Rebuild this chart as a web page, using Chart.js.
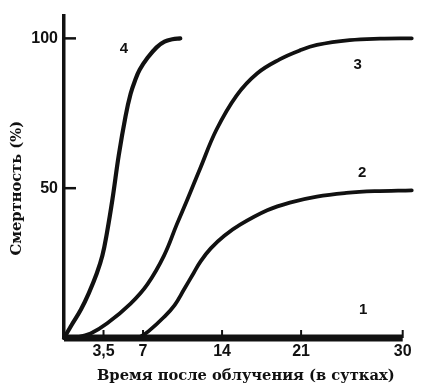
<!DOCTYPE html>
<html>
<head>
<meta charset="utf-8">
<script src="https://cdn.jsdelivr.net/npm/chart.js@4/dist/chart.umd.min.js"></script>
<style>
  html, body { margin: 0; padding: 0; background: #fff; }
  canvas { display: block; }
</style>
</head>
<body>
<canvas id="chart" width="429" height="386"></canvas>
<script>
// Mortality (%) against days after irradiation, four dose groups
const days1 = [0, 30];
const mort1 = [0, 0];

const days2 = [6.6, 7.5, 8.86, 9.8, 10.6, 11.5, 12.1, 13.0, 14.2, 15.6, 18.0, 20.0, 22.4, 25.0, 27.5, 30.8];
const mort2 = [0, 2.3, 7, 11, 16, 21.8, 25.6, 29.9, 34.1, 37.8, 42.6, 45.2, 47.2, 48.4, 49, 49.3];

const days3 = [0, 1.2, 2.36, 3.83, 5.9, 7.4, 8.86, 10.0, 10.9, 11.5, 12.05, 13.5, 15.3, 17.1, 19.1, 20.9, 22.4, 25.3, 28.0, 30.8];
const mort3 = [0, 0.3, 1.5, 4.9, 11.5, 18, 27.5, 38, 46, 51.5, 56.5, 69.5, 81, 88.3, 93, 96, 97.8, 99.4, 99.9, 100];

const days4 = [0, 0.7, 1.5, 2.2, 2.9, 3.4, 3.8, 4.3, 4.85, 5.45, 5.9, 6.3, 6.7, 7.4, 8.2, 8.9, 9.6, 10.3];
const mort4 = [0, 4.5, 9.5, 15, 21.5, 27.5, 35, 46.5, 61, 74, 81.5, 86, 89.5, 93.5, 97, 98.9, 99.7, 100];

const xTickValues = [3.5, 7, 14, 21, 30];
const xTickLabels = ['3,5', '7', '14', '21', '30'];
const yTickValues = [50, 100];

const curveNames = ['1', '2', '3', '4'];
const xTitle = 'Время после облучения (в сутках)';
const yTitle = 'Смертность (%)';

const ink = '#111111';
const tickFont = { family: "'Liberation Sans', Arial, sans-serif", size: 16, weight: 'bold' };
const titleFont = "bold 14.7px 'DejaVu Serif', serif";

function points(xs, ys) {
  return xs.map((x, i) => ({ x: x, y: ys[i] }));
}

// curve numbers, axis titles and inward tick marks, placed through the scales
const decor = {
  id: 'decor',
  afterDatasetsDraw(chart) {
    const { ctx, chartArea } = chart;
    const xs = chart.scales.x, ys = chart.scales.y;
    ctx.save();
    ctx.strokeStyle = ink;
    ctx.fillStyle = ink;

    // y tick marks point into the plot
    ctx.lineWidth = 2.5;
    yTickValues.forEach(v => {
      const py = ys.getPixelForValue(v);
      ctx.beginPath();
      ctx.moveTo(chartArea.left, py);
      ctx.lineTo(chartArea.left + 12, py);
      ctx.stroke();
    });

    // x tick marks rise from the base line
    ctx.lineWidth = 2;
    const y0 = ys.getPixelForValue(0);
    xTickValues.forEach(v => {
      const px = xs.getPixelForValue(v);
      ctx.beginPath();
      ctx.moveTo(px, y0);
      ctx.lineTo(px, y0 - 8);
      ctx.stroke();
    });

    // curve numbers
    const anchors = [[26.5, 9.5], [26.4, 55], [26.0, 91], [5.3, 96.4]];
    ctx.font = "bold 15px 'Liberation Sans', Arial, sans-serif";
    ctx.textAlign = 'center';
    ctx.textBaseline = 'middle';
    curveNames.forEach((name, i) => {
      ctx.fillText(name, xs.getPixelForValue(anchors[i][0]), ys.getPixelForValue(anchors[i][1]));
    });

    // axis titles
    ctx.font = titleFont;
    ctx.textAlign = 'center';
    ctx.textBaseline = 'alphabetic';
    ctx.fillText(xTitle, xs.getPixelForValue(16.1), 380);

    ctx.save();
    ctx.translate(21, ys.getPixelForValue(50));
    ctx.rotate(-Math.PI / 2);
    ctx.fillText(yTitle, 0, 0);
    ctx.restore();

    ctx.restore();
  }
};

new Chart(document.getElementById('chart').getContext('2d'), {
  type: 'line',
  data: {
    datasets: [
      { data: points(days1, mort1), borderWidth: 7, borderCapStyle: 'butt', tension: 0 },
      { data: points(days2, mort2), borderWidth: 3.8 },
      { data: points(days3, mort3), borderWidth: 3.8 },
      { data: points(days4, mort4), borderWidth: 4.2 }
    ]
  },
  options: {
    responsive: false,
    animation: false,
    devicePixelRatio: 1,
    layout: { padding: { top: 13, right: 15, left: 0, bottom: 0 } },
    plugins: { legend: { display: false }, tooltip: { enabled: false } },
    elements: {
      point: { radius: 0 },
      line: { borderColor: ink, cubicInterpolationMode: 'default', tension: 0.4, borderCapStyle: 'round', borderJoinStyle: 'round', fill: false }
    },
    datasets: { line: { clip: false } },
    scales: {
      x: {
        type: 'linear',
        min: 0,
        max: 31,
        grid: { display: false, drawTicks: false },
        border: { display: false },
        afterBuildTicks: s => { s.ticks = xTickValues.map(v => ({ value: v })); },
        ticks: {
          autoSkip: false,
          maxRotation: 0,
          padding: 4,
          color: ink,
          font: tickFont,
          callback: (v, i) => xTickLabels[i]
        },
        afterFit: s => { s.height = 48; }
      },
      y: {
        min: 0,
        max: 107.6,
        grid: { display: false, drawTicks: false },
        border: { display: true, width: 3.5, color: ink },
        afterBuildTicks: s => { s.ticks = yTickValues.map(v => ({ value: v })); },
        ticks: { padding: 6, color: ink, font: tickFont },
        afterFit: s => { s.width = 64; }
      }
    }
  },
  plugins: [decor]
});
</script>
</body>
</html>
